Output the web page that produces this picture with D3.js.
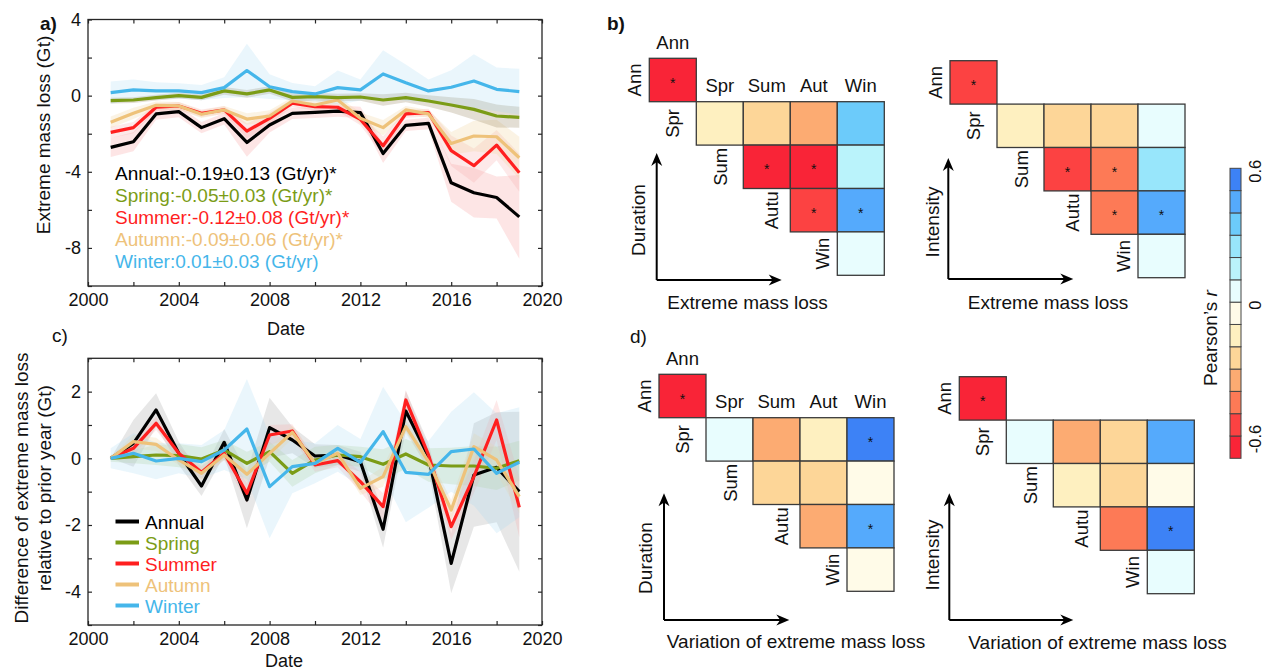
<!DOCTYPE html>
<html>
<head>
<meta charset="utf-8">
<script src="https://cdn.jsdelivr.net/npm/d3@7"></script>
<style>
  body { margin: 0; background: #fff; }
  text { font-family: Arial, "Liberation Sans", sans-serif; fill: #111; }
</style>
</head>
<body>
<svg id="fig" width="1266" height="670"></svg>
<script>
// ---- data ----
var years = [2001,2002,2003,2004,2005,2006,2007,2008,2009,2010,2011,2012,2013,2014,2015,2016,2017,2018,2019];

// panel a: extreme mass loss (Gt)
var annualA = [-2.72,-2.42,-0.96,-0.84,-1.68,-1.21,-2.46,-1.54,-0.93,-0.88,-0.81,-0.89,-3.04,-1.56,-1.46,-4.58,-5.10,-5.35,-6.37];
var springA = [-0.26,-0.23,-0.10,0.00,-0.09,0.25,0.09,0.30,-0.09,-0.05,-0.10,-0.07,-0.23,-0.10,-0.28,-0.49,-0.72,-1.07,-1.14];
var summerA = [-1.93,-1.68,-0.61,-0.54,-0.93,-0.75,-1.86,-1.19,-0.40,-0.58,-0.61,-1.25,-2.63,-0.96,-0.89,-2.89,-3.68,-2.60,-4.05];
var autumnA = [-1.40,-0.93,-0.51,-0.54,-0.98,-0.75,-1.23,-1.07,-0.28,-0.49,-0.23,-1.19,-1.68,-0.75,-0.96,-2.51,-2.12,-2.16,-3.26];
var winterA = [0.16,0.30,0.25,0.25,0.16,0.42,1.32,0.47,0.21,0.09,0.42,0.30,1.14,0.68,0.25,0.44,0.77,0.33,0.21];
var annualErrA = [0.5,0.5,0.3,0.3,0.3,0.3,0.75,0.4,0.3,0.3,0.3,0.3,0.5,0.3,0.3,1.0,1.3,1.1,2.2];
var springErrA = [0.15,0.15,0.15,0.15,0.15,0.2,0.2,0.2,0.2,0.2,0.2,0.2,0.3,0.25,0.3,0.4,0.55,0.6,0.55];
var summerErrA = [0.3,0.3,0.2,0.2,0.2,0.2,0.4,0.3,0.2,0.2,0.2,0.3,0.5,0.2,0.2,0.8,0.9,0.8,1.0];
var autumnErrA = [0.3,0.3,0.2,0.2,0.2,0.2,0.3,0.3,0.2,0.2,0.2,0.3,0.4,0.2,0.2,0.6,0.8,0.9,1.1];
var winterErrA = [0.58,0.55,0.45,0.4,0.4,0.55,1.4,0.65,0.45,0.4,0.9,0.55,1.25,0.95,0.6,0.9,1.4,1.15,1.2];
var trendLabels = ["Annual:-0.19\u00b10.13 (Gt/yr)*", "Spring:-0.05\u00b10.03 (Gt/yr)*", "Summer:-0.12\u00b10.08 (Gt/yr)*",
                   "Autumn:-0.09\u00b10.06 (Gt/yr)*", "Winter:0.01\u00b10.03 (Gt/yr)"];

// panel c: difference relative to prior year (Gt)
var annualC = [0,0.45,1.45,0.15,-0.83,0.48,-1.25,0.92,0.55,0.07,0.10,-0.10,-2.13,1.42,0.05,-3.15,-0.50,-0.27,-1.00];
var springC = [0,0.05,0.10,0.08,-0.02,0.25,-0.15,0.20,-0.45,-0.05,0.10,0.05,-0.18,0.13,-0.20,-0.23,-0.23,-0.30,-0.07];
var summerC = [0,0.30,1.05,0.15,-0.42,0.15,-1.05,0.70,0.82,-0.20,-0.07,-0.70,-1.45,1.75,0.10,-2.05,-0.55,1.15,-1.47];
var autumnC = [0,0.50,0.42,-0.05,-0.45,0.10,-0.48,0.15,0.78,-0.15,0.15,-0.90,-0.55,0.95,-0.10,-1.55,0.35,-0.05,-1.15];
var winterC = [0,0.15,-0.08,0.00,-0.10,0.25,0.88,-0.85,-0.25,-0.15,0.30,-0.12,0.80,-0.42,-0.48,0.20,0.28,-0.45,-0.12];
var annualErrC = [0,0.7,0.5,0.35,0.3,0.4,0.85,0.9,0.4,0.35,0.3,0.3,0.55,0.6,0.4,0.9,1.55,1.65,2.4];
var springErrC = [0.1,0.2,0.3,0.35,0.35,0.3,0.35,0.3,0.4,0.4,0.3,0.3,0.45,0.45,0.5,0.55,0.6,0.65,0.6];
var summerErrC = [0.05,0.2,0.2,0.2,0.2,0.2,0.3,0.3,0.2,0.2,0.2,0.3,0.4,0.3,0.2,0.4,0.5,0.6,0.9];
var autumnErrC = [0.05,0.2,0.2,0.15,0.2,0.15,0.2,0.2,0.2,0.15,0.15,0.2,0.3,0.2,0.2,0.3,0.4,0.4,0.5];
var winterErrC = [0.3,0.6,0.55,0.45,0.5,0.6,1.5,1.55,0.8,0.6,0.7,0.7,1.35,1.5,1.0,1.2,1.7,1.8,1.65];
var legendNames = ["Annual","Spring","Summer","Autumn","Winter"];

// correlation matrices (Pearson's r), rows/cols: Ann, Spr, Sum, Aut, Win
var colNames = ["Ann","Spr","Sum","Aut","Win"];
var rowNames = ["Ann","Spr","Sum","Autu","Win"];
var durLossR = [[-0.65,null,null,null,null],[null,-0.15,-0.25,-0.35,0.35],[null,null,-0.65,-0.65,0.15],[null,null,null,-0.55,0.45],[null,null,null,null,0.05]];
var durLossSig = [[1,0,0,0,0],[0,0,0,0,0],[0,0,1,1,0],[0,0,0,1,1],[0,0,0,0,0]];
var intLossR = [[-0.58,null,null,null,null],[null,-0.15,-0.25,-0.25,0.05],[null,null,-0.55,-0.45,0.25],[null,null,null,-0.45,0.45],[null,null,null,null,0.05]];
var intLossSig = [[1,0,0,0,0],[0,0,0,0,0],[0,0,1,1,0],[0,0,0,1,1],[0,0,0,0,0]];
var durVarR = [[-0.65,null,null,null,null],[null,0.05,-0.35,-0.15,0.55],[null,null,-0.25,-0.25,-0.05],[null,null,null,-0.35,0.45],[null,null,null,null,-0.05]];
var durVarSig = [[1,0,0,0,0],[0,0,0,0,1],[0,0,0,0,0],[0,0,0,0,1],[0,0,0,0,0]];
var intVarR = [[-0.65,null,null,null,null],[null,0.05,-0.35,-0.25,0.45],[null,null,-0.15,-0.25,-0.05],[null,null,null,-0.45,0.55],[null,null,null,null,0.05]];
var intVarSig = [[1,0,0,0,0],[0,0,0,0,0],[0,0,0,0,0],[0,0,0,0,1],[0,0,0,0,0]];

// colour bar
var cbEdges = [-0.7,-0.6,-0.5,-0.4,-0.3,-0.2,-0.1,0,0.1,0.2,0.3,0.4,0.5,0.6];
var cbColors = ["#f92437","#fc4242","#fd7a56","#fcab72","#fdd698","#fef0c0","#fffbe8",
                "#e8fdfe","#baf3fb","#98e6fb","#6ccbfa","#55aafc","#3d82f6"];
var cbTicks = [-0.6, 0, 0.6];

// ---- drawing ----
var svg = d3.select("#fig");
svg.append("rect").attr("width",1266).attr("height",670).attr("fill","#fff");
var axisCol = "#262626";

function timePanel(cfg) {
  var g = svg.append("g");
  var x = d3.scaleLinear().domain([2000, 2020]).range([cfg.left, cfg.right]);
  var y = d3.scaleLinear().domain(cfg.yDomain).range([cfg.bottom, cfg.top]);

  cfg.series.forEach(function (s) {
    var area = d3.area()
      .x(function (d, i) { return x(years[i]); })
      .y0(function (d, i) { return y(d - s.err[i]); })
      .y1(function (d, i) { return y(d + s.err[i]); });
    g.append("path").datum(s.values).attr("d", area)
      .attr("fill", s.band).attr("fill-opacity", s.bandOpacity);
  });
  cfg.series.forEach(function (s) {
    var line = d3.line()
      .x(function (d, i) { return x(years[i]); })
      .y(function (d) { return y(d); });
    g.append("path").datum(s.values).attr("d", line)
      .attr("fill", "none").attr("stroke", s.color)
      .attr("stroke-width", 3.2).attr("stroke-linejoin", "round");
  });

  var xt = d3.range(2000, 2021, 2);
  var yt = d3.range(cfg.yDomain[0], cfg.yDomain[1] + 0.01, cfg.yStep);
  var fmtY = function (d) { return d % cfg.yLabelEvery === 0 ? String(d) : ""; };
  var fmtX = function (d) { return d % 4 === 0 ? String(d) : ""; };

  var axes = [
    [d3.axisBottom(x).tickValues(xt).tickFormat(fmtX), "translate(0," + cfg.bottom + ")"],
    [d3.axisTop(x).tickValues(xt).tickFormat(""), "translate(0," + cfg.top + ")"],
    [d3.axisLeft(y).tickValues(yt).tickFormat(fmtY), "translate(" + cfg.left + ",0)"],
    [d3.axisRight(y).tickValues(yt).tickFormat(""), "translate(" + cfg.right + ",0)"]
  ];
  axes.forEach(function (a) {
    var ag = g.append("g").attr("transform", a[1])
      .call(a[0].tickSizeInner(-4).tickSizeOuter(0).tickPadding(7));
    ag.select(".domain").remove();
    ag.selectAll("line").attr("stroke", axisCol).attr("stroke-width", 1.2);
    ag.selectAll("text").attr("font-size", 18).attr("fill", "#1a1a1a")
      .style("font-family", "Arial, 'Liberation Sans', sans-serif");
  });
  g.append("rect").attr("x", cfg.left).attr("y", cfg.top)
    .attr("width", cfg.right - cfg.left).attr("height", cfg.bottom - cfg.top)
    .attr("fill", "none").attr("stroke", axisCol).attr("stroke-width", 1.3);

  g.append("text").attr("x", cfg.dateX).attr("y", cfg.dateY)
    .attr("text-anchor", "middle").attr("font-size", 18).text("Date");
  return {g: g, x: x, y: y};
}

var colA = {annual: "#000000", spring: "#7b9c16", summer: "#ff1f1f", autumn: "#eec27a", winter: "#45b6ea"};
var trendCols = [colA.annual, colA.spring, colA.summer, colA.autumn, colA.winter];

// panel a
var pa = timePanel({
  left: 88, right: 542, top: 19.5, bottom: 286, yDomain: [-10, 4], yStep: 2, yLabelEvery: 4,
  dateX: 286, dateY: 335,
  series: [
    {values: annualA, err: annualErrA, color: colA.annual, band: "#f7a9a9", bandOpacity: 0.3},
    {values: summerA, err: summerErrA, color: colA.summer, band: "#f7a9a9", bandOpacity: 0.25},
    {values: autumnA, err: autumnErrA, color: colA.autumn, band: "#f3d7a6", bandOpacity: 0.3},
    {values: springA, err: springErrA, color: colA.spring, band: "#9c8a66", bandOpacity: 0.28},
    {values: winterA, err: winterErrA, color: colA.winter, band: "#9fd8f2", bandOpacity: 0.22}
  ]
});
trendLabels.forEach(function (t, i) {
  pa.g.append("text").attr("x", 115).attr("y", 180 + i * 22.1)
    .attr("font-size", 19).style("fill", trendCols[i]).text(t);
});
svg.append("text").attr("transform", "translate(43.5,135) rotate(-90)")
  .attr("text-anchor", "middle").attr("dominant-baseline", "central")
  .attr("font-size", 19).text("Extreme mass loss (Gt)");
svg.append("text").attr("x", 40).attr("y", 30).attr("font-size", 19)
  .attr("font-weight", "bold").text("a)");

// panel c
var pc = timePanel({
  left: 88, right: 542, top: 358.3, bottom: 625, yDomain: [-5, 3], yStep: 1, yLabelEvery: 2,
  dateX: 284, dateY: 667,
  series: [
    {values: annualC, err: annualErrC, color: colA.annual, band: "#a8a8a8", bandOpacity: 0.28},
    {values: springC, err: springErrC, color: colA.spring, band: "#b9d39a", bandOpacity: 0.3},
    {values: summerC, err: summerErrC, color: colA.summer, band: "#f7a9a9", bandOpacity: 0.25},
    {values: autumnC, err: autumnErrC, color: colA.autumn, band: "#f3d7a6", bandOpacity: 0.3},
    {values: winterC, err: winterErrC, color: colA.winter, band: "#9fd8f2", bandOpacity: 0.22}
  ]
});
legendNames.forEach(function (n, i) {
  var yy = 521.5 + i * 21;
  pc.g.append("line").attr("x1", 115.5).attr("x2", 139).attr("y1", yy).attr("y2", yy)
    .attr("stroke", trendCols[i]).attr("stroke-width", 4);
  pc.g.append("text").attr("x", 145).attr("y", yy + 7).attr("font-size", 19)
    .style("fill", trendCols[i]).text(n);
});
svg.append("text").attr("transform", "translate(21,488) rotate(-90)")
  .attr("text-anchor", "middle").attr("dominant-baseline", "central")
  .attr("font-size", 19).text("Difference of extreme mass loss");
svg.append("text").attr("transform", "translate(44,488) rotate(-90)")
  .attr("text-anchor", "middle").attr("dominant-baseline", "central")
  .attr("font-size", 19).text("relative to prior year (Gt)");
svg.append("text").attr("x", 52).attr("y", 342).attr("font-size", 19).text("c)");

// correlation matrices
var cellW = 47, cellH = 43.4;
var rowLabelOffset = [-15, -24, -23, -19, -15];
var color = d3.scaleThreshold().domain(cbEdges.slice(1, -1)).range(cbColors);

function arrow(g, x1, y1, x2, y2) {
  var ang = Math.atan2(y2 - y1, x2 - x1), L = 13, W = 5.5;
  g.append("line").attr("x1", x1).attr("y1", y1)
    .attr("x2", x2 - L * Math.cos(ang) * 0.6).attr("y2", y2 - L * Math.sin(ang) * 0.6)
    .attr("stroke", "#000").attr("stroke-width", 2);
  var bx = x2 - L * Math.cos(ang), by = y2 - L * Math.sin(ang);
  var pts = [[x2, y2],
    [bx + W * Math.sin(ang), by - W * Math.cos(ang)],
    [x2 - L * 0.7 * Math.cos(ang), y2 - L * 0.7 * Math.sin(ang)],
    [bx - W * Math.sin(ang), by + W * Math.cos(ang)]];
  g.append("polygon").attr("points", pts.map(function (p) { return p.join(","); }).join(" "))
    .attr("fill", "#000");
}

function matrix(cfg) {
  var g = svg.append("g");
  var cx = d3.scaleBand().domain(colNames).range([cfg.x0, cfg.x0 + 5 * cellW]);
  var ry = d3.scaleBand().domain(rowNames).range([cfg.y0, cfg.y0 + 5 * cellH]);
  var cells = [];
  cfg.r.forEach(function (row, i) {
    row.forEach(function (v, j) {
      if (v !== null) cells.push({i: i, j: j, v: v, s: cfg.sig[i][j]});
    });
  });
  g.selectAll("rect.cell").data(cells).enter().append("rect")
    .attr("x", function (d) { return cx(colNames[d.j]); })
    .attr("y", function (d) { return ry(rowNames[d.i]); })
    .attr("width", cx.bandwidth()).attr("height", ry.bandwidth())
    .attr("fill", function (d) { return color(d.v); })
    .attr("stroke", "#3a3a3a").attr("stroke-width", 1.3);
  g.selectAll("text.star").data(cells.filter(function (d) { return d.s; })).enter().append("text")
    .attr("x", function (d) { return cx(colNames[d.j]) + cx.bandwidth() / 2; })
    .attr("y", function (d) { return ry(rowNames[d.i]) + ry.bandwidth() / 2 + 7.5; })
    .attr("text-anchor", "middle").attr("font-size", 14).text("*");

  // row labels, rotated, left of the diagonal cell
  rowNames.forEach(function (n, i) {
    var xx = cx(colNames[i]) + rowLabelOffset[i];
    var yy = ry(n) + ry.bandwidth() / 2;
    g.append("text").attr("transform", "translate(" + xx + "," + yy + ") rotate(-90)")
      .attr("text-anchor", "middle").attr("dominant-baseline", "central")
      .attr("font-size", 18.5).text(n);
  });
  if (cfg.topLabels) {
    colNames.forEach(function (n, j) {
      var first = cfg.r.findIndex(function (row) { return row[j] !== null; });
      g.append("text").attr("x", cx(n) + cx.bandwidth() / 2).attr("y", ry(rowNames[first]) - 9.5)
        .attr("text-anchor", "middle").attr("font-size", 18.5).text(n);
    });
  }
  arrow(g, cfg.ax, cfg.ay, cfg.ax, cfg.ayTip);
  arrow(g, cfg.ax, cfg.ay, cfg.axTip, cfg.ay);
  g.append("text").attr("transform", "translate(" + cfg.vlx + "," + cfg.vly + ") rotate(-90)")
    .attr("text-anchor", "middle").attr("dominant-baseline", "central")
    .attr("font-size", 19).text(cfg.vLabel);
  g.append("text").attr("x", cfg.hlx).attr("y", cfg.hly + 7)
    .attr("text-anchor", "middle").attr("font-size", 19).text(cfg.hLabel);
}

matrix({r: durLossR, sig: durLossSig, x0: 649.3, y0: 58.3, topLabels: true,
  ax: 656.7, ay: 280, ayTip: 153, axTip: 781.7, vLabel: "Duration", vlx: 638, vly: 220,
  hLabel: "Extreme mass loss", hlx: 747.5, hly: 302});
matrix({r: intLossR, sig: intLossSig, x0: 950, y0: 60.7, topLabels: false,
  ax: 948.3, ay: 279, ayTip: 158, axTip: 1073.3, vLabel: "Intensity", vlx: 932, vly: 222,
  hLabel: "Extreme mass loss", hlx: 1048, hly: 302});
matrix({r: durVarR, sig: durVarSig, x0: 659, y0: 374.3, topLabels: true,
  ax: 664, ay: 620, ayTip: 493.3, axTip: 789.3, vLabel: "Duration", vlx: 645, vly: 558,
  hLabel: "Variation of extreme mass loss", hlx: 796, hly: 641});
matrix({r: intVarR, sig: intVarSig, x0: 959.3, y0: 376.7, topLabels: false,
  ax: 949.3, ay: 620, ayTip: 493.3, axTip: 1073.3, vLabel: "Intensity", vlx: 932, vly: 555,
  hLabel: "Variation of extreme mass loss", hlx: 1097.5, hly: 641.7});

svg.append("text").attr("x", 607).attr("y", 30).attr("font-size", 19)
  .attr("font-weight", "bold").text("b)");
svg.append("text").attr("x", 630).attr("y", 343).attr("font-size", 19).text("d)");

// colour bar
var cby = d3.scaleLinear().domain([-0.7, 0.6]).range([458.3, 168.3]);
var cbg = svg.append("g");
cbColors.forEach(function (c, i) {
  cbg.append("rect").attr("x", 1230).attr("width", 11)
    .attr("y", cby(cbEdges[i + 1])).attr("height", cby(cbEdges[i]) - cby(cbEdges[i + 1]))
    .attr("fill", c).attr("stroke", "#444").attr("stroke-width", 1);
});
cbTicks.forEach(function (t) {
  cbg.append("text").attr("transform", "translate(1255," + (cby(t) + 3) + ") rotate(-90)")
    .attr("text-anchor", "middle").attr("dominant-baseline", "central")
    .attr("font-size", 16.5).text(String(t));
});
var pr = cbg.append("text").attr("transform", "translate(1210,338) rotate(-90)")
  .attr("text-anchor", "middle").attr("dominant-baseline", "central").attr("font-size", 19);
pr.append("tspan").text("Pearson\u2019s ");
pr.append("tspan").attr("font-style", "italic").text("r");
</script>
</body>
</html>
